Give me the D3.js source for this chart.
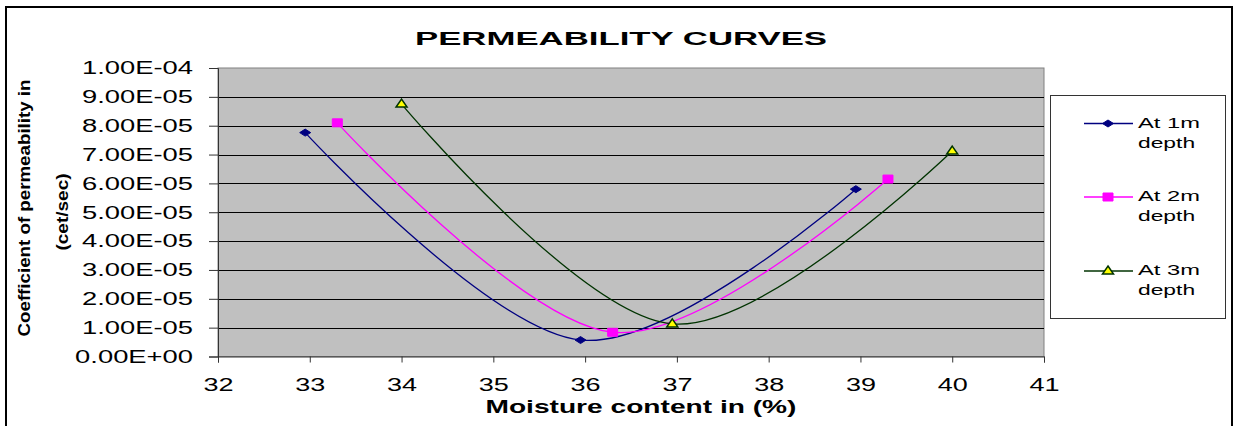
<!DOCTYPE html>
<html>
<head>
<meta charset="utf-8">
<script src="https://cdn.jsdelivr.net/npm/d3@7"></script>
<style>
  body { margin: 0; background: #fff; }
  text { font-family: "Liberation Sans", Arial, sans-serif; fill: #000; }
</style>
</head>
<body>
<svg id="chart" width="1235" height="426"></svg>
<script>
// data
var moisture1 = [32.95, 35.95, 38.95];
var perm1 = [7.76e-5, 0.57e-5, 5.8e-5];
var moisture2 = [33.3, 36.3, 39.3];
var perm2 = [8.1e-5, 0.84e-5, 6.15e-5];
var moisture3 = [34.0, 36.95, 40.0];
var perm3 = [8.75e-5, 1.13e-5, 7.12e-5];

var seriesNames = ["At 1m", "At 2m", "At 3m"];
var xTicks = [32, 33, 34, 35, 36, 37, 38, 39, 40, 41];
var yTicks = [0, 1e-5, 2e-5, 3e-5, 4e-5, 5e-5, 6e-5, 7e-5, 8e-5, 9e-5, 1e-4];

var series = [
  {name: seriesNames[0], xs: moisture1, ys: perm1, color: "#000080", marker: "diamond"},
  {name: seriesNames[1], xs: moisture2, ys: perm2, color: "#FF00FF", marker: "square"},
  {name: seriesNames[2], xs: moisture3, ys: perm3, color: "#003300", marker: "triangle"}
];

var svg = d3.select("#chart");

var x = d3.scaleLinear().domain([32, 41]).range([218, 1044]);
var y = d3.scaleLinear().domain([0, 1e-4]).range([356.5, 68]);

// stretch text horizontally like the original (it was widened)
function stretch(sel, ratio) {
  sel.each(function(){
    var w = this.getComputedTextLength();
    d3.select(this).attr("textLength", w * ratio).attr("lengthAdjust", "spacingAndGlyphs");
  });
}

function expFmt(v) {
  var s = v.toExponential(2).split("e");
  var e = parseInt(s[1], 10);
  var sign = e < 0 ? "-" : "+";
  var ab = Math.abs(e);
  return s[0] + "E" + sign + (ab < 10 ? "0" + ab : ab);
}

// outer frame
svg.append("rect").attr("x", 6).attr("y", 7).attr("width", 1226).attr("height", 440)
   .attr("fill", "none").attr("stroke", "#000").attr("stroke-width", 2);

// plot area
svg.append("rect")
   .attr("x", x(32)).attr("y", y(1e-4))
   .attr("width", x(41) - x(32)).attr("height", y(0) - y(1e-4))
   .attr("fill", "#C0C0C0").attr("stroke", "#808080").attr("stroke-width", 1);

svg.append("g").selectAll("line")
   .data(yTicks.filter(function(d){ return d > 0 && d < 1e-4; }))
   .enter().append("line")
   .attr("x1", x(32)).attr("x2", x(41))
   .attr("y1", function(d){ return Math.round(y(d)) + 0.5; })
   .attr("y2", function(d){ return Math.round(y(d)) + 0.5; })
   .attr("stroke", "#000").attr("stroke-width", 1);

// axes
var yAxis = svg.append("g").attr("transform", "translate(" + x(32) + ",0)")
   .call(d3.axisLeft(y).tickValues(yTicks).tickSize(9).tickPadding(16).tickFormat(expFmt));
yAxis.select(".domain").attr("stroke", "#333");
yAxis.selectAll(".tick line").attr("stroke", "#333");
yAxis.selectAll("text").attr("font-size", 18).attr("font-family", "Liberation Sans, Arial, sans-serif");
stretch(yAxis.selectAll("text"), 1.52);

var xAxis = svg.append("g").attr("transform", "translate(0," + y(0) + ")")
   .call(d3.axisBottom(x).tickValues(xTicks).tickSize(6).tickPadding(16).tickFormat(d3.format("d")));
xAxis.select(".domain").attr("stroke", "#333");
xAxis.selectAll(".tick line").attr("stroke", "#333");
xAxis.selectAll("text").attr("font-size", 18).attr("font-family", "Liberation Sans, Arial, sans-serif");
stretch(xAxis.selectAll("text"), 1.5);

// curves
var line = d3.line()
   .x(function(d){ return x(d[0]); })
   .y(function(d){ return y(d[1]); })
   .curve(d3.curveCardinal.tension(0));

function markerPath(type) {
  if (type === "diamond") return "M-5.5,0L0,-3.5L5.5,0L0,3.5Z";
  if (type === "square") return "M-5,-4L5,-4L5,4L-5,4Z";
  return "M0,-5L5.5,3L-5.5,3Z";
}

series.forEach(function(s){
  var pts = s.xs.map(function(v, i){ return [v, s.ys[i]]; });
  svg.append("path").attr("d", line(pts))
     .attr("fill", "none").attr("stroke", s.color).attr("stroke-width", 1.3);
  svg.append("g").selectAll("path").data(pts).enter().append("path")
     .attr("transform", function(d){ return "translate(" + x(d[0]) + "," + y(d[1]) + ")"; })
     .attr("d", markerPath(s.marker))
     .attr("fill", s.marker === "triangle" ? "#FFFF00" : s.color)
     .attr("stroke", s.color)
     .attr("stroke-width", s.marker === "triangle" ? 1.5 : 1);
});

// title
svg.append("text").attr("x", 621).attr("y", 45).attr("text-anchor", "middle")
   .attr("font-size", 18).attr("font-weight", "bold")
   .attr("textLength", 412).attr("lengthAdjust", "spacingAndGlyphs")
   .text("PERMEABILITY CURVES");

// x title
svg.append("text").attr("x", 641).attr("y", 413).attr("text-anchor", "middle")
   .attr("font-size", 19).attr("font-weight", "bold")
   .attr("textLength", 311).attr("lengthAdjust", "spacingAndGlyphs")
   .text("Moisture content in (%)");

// y title (two lines)
svg.append("text").attr("transform", "translate(30,208) rotate(-90)").attr("text-anchor", "middle")
   .attr("font-size", 16).attr("font-weight", "bold")
   .attr("textLength", 257).attr("lengthAdjust", "spacingAndGlyphs")
   .text("Coefficient of permeability in");
svg.append("text").attr("transform", "translate(68,212) rotate(-90)").attr("text-anchor", "middle")
   .attr("font-size", 16).attr("font-weight", "bold")
   .attr("textLength", 77).attr("lengthAdjust", "spacingAndGlyphs")
   .text("(cet/sec)");

// legend
var legend = svg.append("g");
legend.append("rect").attr("x", 1050.5).attr("y", 95.5).attr("width", 175).attr("height", 223)
   .attr("fill", "#fff").attr("stroke", "#333").attr("stroke-width", 1);
var legendY = [123.5, 197, 271];
series.forEach(function(s, i){
  var g = legend.append("g").attr("transform", "translate(0," + legendY[i] + ")");
  g.append("line").attr("x1", 1084).attr("x2", 1133).attr("y1", 0).attr("y2", 0)
   .attr("stroke", s.color).attr("stroke-width", 1.3);
  g.append("path").attr("transform", "translate(1108,0)").attr("d", markerPath(s.marker))
   .attr("fill", s.marker === "triangle" ? "#FFFF00" : s.color)
   .attr("stroke", s.color).attr("stroke-width", s.marker === "triangle" ? 1.5 : 1);
  var t1 = g.append("text").attr("x", 1138).attr("y", 4).attr("font-size", 15).text(s.name);
  var t2 = g.append("text").attr("x", 1138).attr("y", 24).attr("font-size", 15).text("depth");
  stretch(t1, 1.58);
  stretch(t2, 1.52);
});
</script>
</body>
</html>
